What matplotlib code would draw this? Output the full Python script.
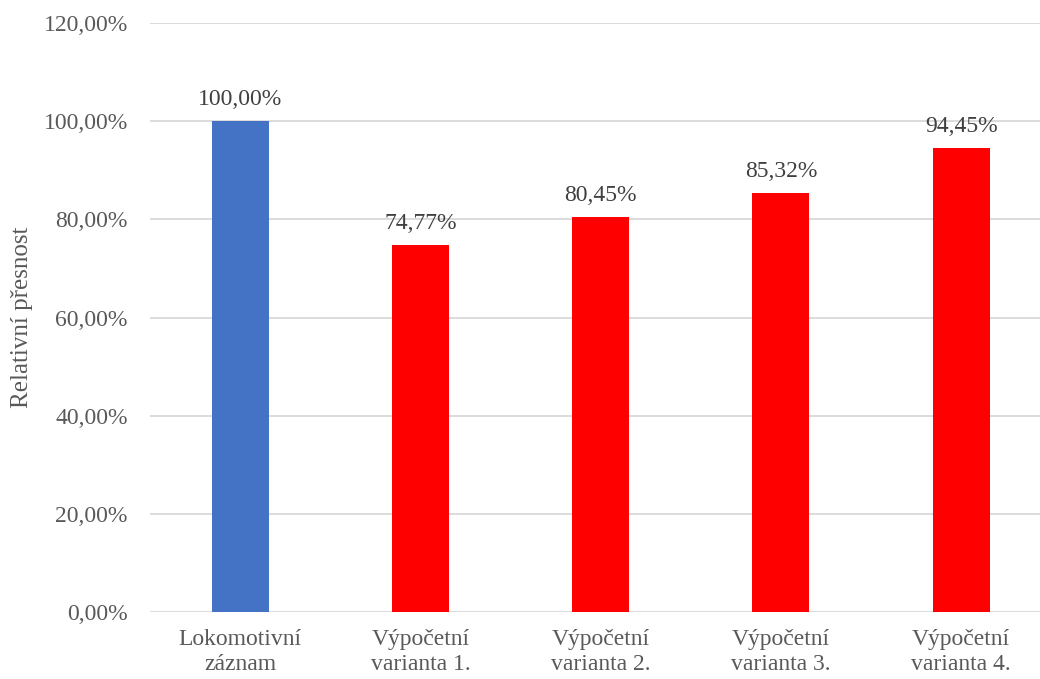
import matplotlib
matplotlib.use("Agg")
import matplotlib.pyplot as plt
from matplotlib.ticker import FuncFormatter

categories = ["Lokomotivní\nzáznam", "Výpočetní\nvarianta 1.", "Výpočetní\nvarianta 2.",
              "Výpočetní\nvarianta 3.", "Výpočetní\nvarianta 4."]
values = [100.00, 74.77, 80.45, 85.32, 94.45]
colors = ["#4472C4", "#FF0000", "#FF0000", "#FF0000", "#FF0000"]
y_ticks = [0, 20, 40, 60, 80, 100, 120]
y_label = "Relativní přesnost"

serif = ["Liberation Serif", "DejaVu Serif"]
plt.rcParams["font.family"] = serif
text_color = "#595959"

W, H = 1040, 679
fig = plt.figure(figsize=(W / 100, H / 100), dpi=100)
left, right, top, bottom = 150, 1040, 23, 612
ax = fig.add_axes([left / W, 1 - bottom / H, (right - left) / W, (bottom - top) / H])

x = list(range(len(categories)))
ax.bar(x, values, width=0.317, color=colors, zorder=3)

def pct(v):
    return f"{v:.2f}".replace(".", ",") + "%"

for xi, v in zip(x, values):
    ax.annotate(pct(v), (xi, v), xytext=(0, 8), textcoords="offset points",
                ha="center", va="bottom", fontsize=17, color="#404040", family=serif)

ax.set_xlim(-0.5, -0.5 + (right - left) / 180.25)
ax.set_ylim(0, 120)
ax.set_yticks(y_ticks)
ax.yaxis.set_major_formatter(FuncFormatter(lambda v, p: pct(v)))
ax.set_xticks(x)
ax.set_xticklabels(categories, fontsize=17, color=text_color, linespacing=1.25, family=serif)
ax.tick_params(axis="y", labelsize=17, labelcolor=text_color, length=0, pad=16)
ax.tick_params(axis="x", length=0, pad=12)
ax.grid(axis="y", color="#D9D9D9", linewidth=1.3, zorder=0)
for s in ax.spines.values():
    s.set_visible(False)
ax.set_ylabel(y_label, fontsize=18, color=text_color, va="center", family=serif)
ax.yaxis.set_label_coords((22 - left) / (right - left), 0.5 - (317 - (top + bottom) / 2) / (bottom - top))

fig.savefig("out.png", dpi=100)
